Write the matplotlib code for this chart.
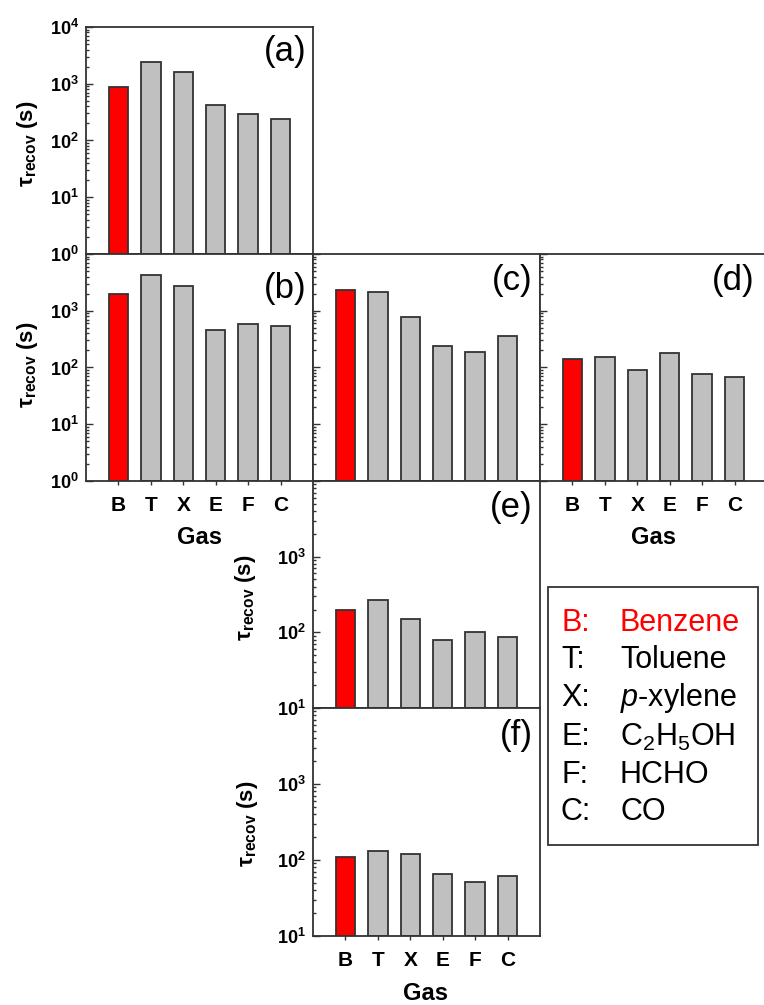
import matplotlib
matplotlib.use('Agg')
import matplotlib.pyplot as plt
from matplotlib.patches import Rectangle
from matplotlib.ticker import LogLocator, NullFormatter

plt.rcParams['font.family'] = ['Liberation Sans', 'DejaVu Sans']
plt.rcParams['mathtext.fontset'] = 'custom'
plt.rcParams['mathtext.rm'] = 'Liberation Sans'
plt.rcParams['mathtext.it'] = 'Liberation Sans:italic'
plt.rcParams['mathtext.bf'] = 'Liberation Sans:bold'

# data (recovery time in s)
gases = ['B', 'T', 'X', 'E', 'F', 'C']
tau_a = [885, 2420, 1610, 425, 298, 243]
tau_b = [1970, 4310, 2690, 457, 590, 537]
tau_c = [2320, 2165, 774, 244, 189, 352]
tau_d = [141, 155, 92, 179, 78, 68]
tau_e = [196, 271, 152, 78, 101, 87]
tau_f = [111, 130, 120, 65, 51, 62]

legend_keys = ['B:', 'T:', 'X:', 'E:', 'F:', 'C:']
legend_names = ['Benzene', 'Toluene', r'$\it{p}$-xylene', r'C$_2$H$_5$OH', 'HCHO', 'CO']

W, H = 764, 1005
EDGE = '#333333'
bar_colors = ['#ff0000'] + ['#c0c0c0'] * 5

fig = plt.figure(figsize=(W / 100, H / 100), dpi=100)


def rect(x0, y0, x1, y1):
    # pixel box (top-left origin) -> figure fraction
    return [x0 / W, 1 - y1 / H, (x1 - x0) / W, (y1 - y0) / H]


def px(x, y):
    return x / W, 1 - y / H


def panel(box, vals, ymin, labelled, show_x, tag, tag_pos):
    ax = fig.add_axes(rect(*box))
    ax.set_yscale('log')
    pos = list(range(len(vals)))
    ax.bar(pos, [v - ymin for v in vals], bottom=ymin, width=0.6,
           color=bar_colors, edgecolor=EDGE, linewidth=1.3, zorder=2)
    ax.set_xlim(-1, 6)
    ax.set_ylim(ymin, 1e4)

    decades = [10 ** k for k in range(0, 5) if 10 ** k >= ymin]
    ax.set_yticks(decades)
    ax.set_yticklabels([r'$\mathbf{10^{%d}}$' % len(str(d)[1:]) if d in labelled else ''
                        for d in decades])
    ax.yaxis.set_minor_locator(LogLocator(base=10, subs=range(2, 10)))
    ax.yaxis.set_minor_formatter(NullFormatter())
    ax.tick_params(axis='y', which='both', direction='in', left=True, right=False,
                   labelsize=13, pad=5, width=1, color=EDGE)
    ax.tick_params(axis='y', which='major', length=5)
    ax.tick_params(axis='y', which='minor', length=2.5)

    ax.set_xticks(pos)
    if show_x:
        ax.set_xticklabels(gases, fontweight='bold')
        ax.tick_params(axis='x', direction='out', length=3, width=1, pad=8,
                       labelsize=15, color=EDGE)
    else:
        ax.tick_params(axis='x', length=0, labelbottom=False)

    for s in ax.spines.values():
        s.set_color(EDGE)
        s.set_linewidth(1.3)

    fig.text(*px(*tag_pos), tag, fontsize=25, ha='right', va='center')
    return ax


panel((86, 27, 313, 254), tau_a, 1, [1, 10, 100, 1000, 10000], False, '(a)', (307, 51))
panel((86, 254, 313, 481), tau_b, 1, [1, 10, 100, 1000], True, '(b)', (307, 288))
panel((313, 254, 540, 481), tau_c, 1, [], False, '(c)', (533, 280))
panel((540, 254, 767, 481), tau_d, 1, [], True, '(d)', (755, 280))
panel((313, 481, 540, 708), tau_e, 10, [10, 100, 1000], False, '(e)', (533, 508))
panel((313, 708, 540, 936), tau_f, 10, [10, 100, 1000], True, '(f)', (533, 736))

# y labels
ylab = r'τ$_{\mathbf{recov}}$ (s)'
for x, y in [(27, 144), (27, 365), (245, 598), (248, 824)]:
    fig.text(*px(x, y), ylab, fontsize=16, fontweight='bold', rotation=90,
             ha='center', va='center')

# x labels
for x, y in [(199, 537), (653, 537), (426, 993)]:
    fig.text(*px(x, y), 'Gas', fontsize=17, fontweight='bold', ha='center', va='center')

# legend box
fig.patches.append(Rectangle(px(548, 845), 210 / W, 258 / H, transform=fig.transFigure,
                             fill=False, edgecolor=EDGE, linewidth=1.3))
rows_y = [623, 660, 698, 737, 775, 812]
for i, (k, name) in enumerate(zip(legend_keys, legend_names)):
    c = '#ff0000' if i == 0 else 'black'
    fig.text(*px(561, rows_y[i]), k, fontsize=22, color=c, ha='left', va='center')
    fig.text(*px(620, rows_y[i]), name, fontsize=22, color=c, ha='left', va='center')

fig.savefig('out.png', dpi=100)
